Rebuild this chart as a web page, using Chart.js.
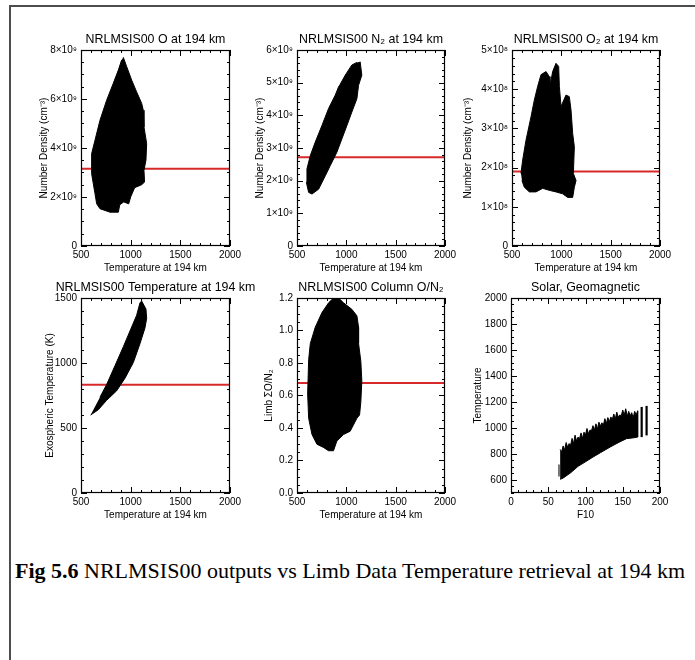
<!DOCTYPE html>
<html>
<head>
<meta charset="utf-8">
<script src="https://cdn.jsdelivr.net/npm/chart.js@4.4.1/dist/chart.umd.min.js"></script>
<style>
  html, body { margin: 0; padding: 0; background: #fff; }
  #page { position: relative; width: 695px; height: 660px; overflow: hidden; background: #fff; }
  #frame { position: absolute; left: 9px; top: 5px; width: 720px; height: 720px;
           border-left: 2px solid #4d4d4d; border-top: 2px solid #4d4d4d; }
  canvas { position: absolute; }
  #caption { position: absolute; left: 15px; top: 558px; white-space: nowrap; color: #000;
             font-family: "Liberation Serif", "Times New Roman", serif; font-size: 22px; }
</style>
</head>
<body>
<div id="page">
  <div id="frame"></div>
  <div id="caption"><b>Fig 5.6</b> NRLMSIS00 outputs vs Limb Data Temperature retrieval at 194 km</div>
</div>
<script>
// ---- axis tick labels ----
const tempTicks = [500, 1000, 1500, 2000];
const oTicks = [0, 2e9, 4e9, 6e9, 8e9];
const n2Ticks = [0, 1e9, 2e9, 3e9, 4e9, 5e9, 6e9];
const o2Ticks = [0, 1e8, 2e8, 3e8, 4e8, 5e8];
const texoTicks = [0, 500, 1000, 1500];
const on2Ticks = [0, 0.2, 0.4, 0.6, 0.8, 1.0, 1.2];
const f10Ticks = [0, 50, 100, 150, 200];
const solarTempTicks = [600, 800, 1000, 1200, 1400, 1600, 1800, 2000];

// ---- atomic oxygen density cloud outline (K, cm^-3 in 1e9) ----
const oTemp = [926, 960, 1010, 1060, 1111, 1127, 1134, 1161, 1154, 1134, 1140, 1110, 1040, 1000, 980, 930, 890, 876, 792, 691, 658, 641, 607, 607, 641, 691, 758, 825, 876, 909];
const oDens = [7.70, 7.32, 6.77, 6.29, 5.82, 5.54, 4.86, 4.18, 3.50, 3.09, 2.61, 2.50, 2.38, 2.00, 1.72, 1.80, 1.68, 1.38, 1.38, 1.52, 1.72, 2.13, 2.95, 3.77, 4.32, 5.13, 5.95, 6.64, 7.18, 7.59];

// ---- molecular nitrogen density cloud outline (K, cm^-3 in 1e9) ----
const n2Temp = [1140, 1157, 1124, 1107, 1056, 1006, 955, 904, 837, 787, 719, 652, 618, 595, 601, 635, 685, 753, 820, 888, 921, 938, 989, 1056, 1107];
const n2Dens = [5.64, 5.23, 4.92, 4.51, 4.10, 3.69, 3.28, 2.87, 2.46, 2.15, 1.74, 1.59, 1.64, 1.95, 2.36, 2.77, 3.18, 3.69, 4.21, 4.62, 4.87, 4.95, 5.23, 5.54, 5.62];

// ---- molecular oxygen density cloud outline (K, cm^-3 in 1e8) ----
const o2Temp = [591, 608, 642, 693, 726, 760, 794, 845, 878, 885, 912, 946, 973, 980, 997, 1047, 1081, 1098, 1115, 1132, 1122, 1149, 1132, 1115, 1064, 1014, 946, 878, 811, 743, 676, 625, 601];
const o2Dens = [1.85, 2.19, 2.70, 3.30, 3.72, 4.07, 4.37, 4.45, 4.32, 4.07, 4.45, 4.66, 4.58, 4.07, 3.56, 3.85, 3.81, 3.47, 2.87, 2.53, 1.85, 1.67, 1.50, 1.24, 1.24, 1.33, 1.38, 1.42, 1.47, 1.38, 1.38, 1.50, 1.67];

// ---- exospheric temperature cloud outline (K, K) ----
const exoTemp = [597, 674, 758, 859, 943, 1027, 1094, 1144, 1161, 1154, 1111, 1094, 1060, 993, 926, 842, 758, 691];
const exoTexo = [600, 640, 713, 786, 883, 1004, 1149, 1270, 1343, 1415, 1476, 1464, 1367, 1246, 1125, 979, 834, 737];

// ---- column O/N2 cloud outline (K, ratio) ----
const on2Temp = [904, 972, 1056, 1107, 1124, 1124, 1147, 1157, 1147, 1134, 1107, 1039, 972, 904, 870, 820, 769, 702, 652, 618, 608, 618, 635, 685, 753, 820, 870];
const on2Ratio = [1.21, 1.17, 1.13, 1.09, 1.02, 0.92, 0.81, 0.69, 0.56, 0.48, 0.46, 0.38, 0.36, 0.32, 0.26, 0.26, 0.28, 0.30, 0.36, 0.46, 0.61, 0.82, 0.92, 1.02, 1.11, 1.17, 1.20];

// ---- solar flux vs temperature band outline (F10, K): jagged top edge, then bottom edge back ----
const bandF10 = [66, 68, 70, 72, 74, 76, 78, 80, 82, 84, 86, 88, 90, 92, 94, 96, 98, 100, 102, 104, 106, 108, 110, 112, 114, 116, 118, 120,
                 122, 124, 126, 128, 130, 132, 134, 136, 138, 140, 142, 144, 146, 148, 150, 152, 154, 156, 158, 160, 162, 164, 166, 168, 170,
                 170, 165, 155, 145, 133, 120, 110, 100, 90, 80, 70, 66];
const bandTemp = [835, 818, 862, 830, 888, 852, 880, 868, 920, 880, 945, 900, 930, 918, 962, 922, 968, 948, 996, 955, 985, 978, 1018, 985, 1032, 992, 1045, 1015,
                  1040, 1022, 1072, 1035, 1080, 1048, 1085, 1065, 1108, 1070, 1122, 1082, 1100, 1095, 1138, 1098, 1148, 1090, 1128, 1094, 1118, 1078, 1128, 1100, 1132,
                  930, 925, 918, 890, 853, 810, 776, 740, 705, 655, 615, 605];
// isolated days drawn as vertical strokes
const strokeF10 = [64.4, 175.4, 182];
const strokeLow = [627, 930, 943];
const strokeHigh = [720, 1162, 1170];

// ---- model reference levels (red lines) ----
const refO = 3.15e9;
const refN2 = 2.72e9;
const refO2 = 1.9e8;
const refTexo = 832;
const refON2 = 0.677;

const FONT = '"Liberation Sans", Arial, sans-serif';

function outline(xs, ys, k) {
  return xs.map((x, i) => ({ x: x, y: ys[i] * k }));
}
function cloud(points) {
  return { data: points, fill: 'shape', backgroundColor: '#000', borderColor: '#000',
           borderWidth: 1, pointRadius: 0, tension: 0 };
}
function refLine(y, x0, x1) {
  return { data: [{ x: x0, y: y }, { x: x1, y: y }], fill: false, borderColor: '#d62a2a',
           borderWidth: 2, pointRadius: 0 };
}
function stroke(x, lo, hi, i) {
  return { data: [{ x: x, y: lo }, { x: x, y: hi }], fill: false,
           borderColor: i === 0 ? '#555' : '#000', borderWidth: i === 0 ? 1.6 : 2.2, pointRadius: 0 };
}
const sci = p => v => v === 0 ? '0' : Math.round(v / Math.pow(10, p)) + '×10' + (p === 9 ? '⁹' : '⁸');

// inward IDL-style ticks on all four sides plus the plot box
const boxTicks = {
  id: 'boxTicks',
  afterDraw(chart, args, o) {
    const { ctx, chartArea: a, scales } = chart;
    const xs = scales.x, ys = scales.y;
    ctx.save();
    ctx.strokeStyle = '#000';
    ctx.lineWidth = 1;
    ctx.beginPath();
    const vert = (vals, len) => vals.forEach(v => {
      const px = Math.round(xs.getPixelForValue(v)) + 0.5;
      ctx.moveTo(px, a.bottom); ctx.lineTo(px, a.bottom - len);
      ctx.moveTo(px, a.top); ctx.lineTo(px, a.top + len);
    });
    const horiz = (vals, len) => vals.forEach(v => {
      const py = Math.round(ys.getPixelForValue(v)) + 0.5;
      ctx.moveTo(a.left, py); ctx.lineTo(a.left + len, py);
      ctx.moveTo(a.right, py); ctx.lineTo(a.right - len, py);
    });
    const minors = (min, max, step) => {
      const out = [];
      for (let v = min; v <= max + step * 1e-6; v += step) out.push(v);
      return out;
    };
    vert(minors(xs.min, xs.max, o.xMinor), 3);
    vert(o.xMajor, 6);
    horiz(minors(ys.min, ys.max, o.yMinor), 3);
    horiz(o.yMajor, 6);
    ctx.stroke();
    ctx.lineWidth = 1.2;
    ctx.strokeRect(Math.round(a.left) + 0.5, Math.round(a.top) + 0.5,
                   Math.round(a.right - a.left) - 1, Math.round(a.bottom - a.top) - 1);
    ctx.restore();
  }
};

const panels = [
  { box: [81, 50, 230, 246], title: 'NRLMSIS00 O at 194 km', yTitle: 'Number Density (cm⁻³)', yGap: 37,
    x: [500, 2000, tempTicks, 100], y: [0, 8e9, oTicks, 5e8], fmt: sci(9),
    sets: [cloud(outline(oTemp, oDens, 1e9)), refLine(refO, 500, 2000)] },
  { box: [297, 50, 445, 246], title: 'NRLMSIS00 N₂ at 194 km', yTitle: 'Number Density (cm⁻³)', yGap: 37,
    x: [500, 2000, tempTicks, 100], y: [0, 6e9, n2Ticks, 2e8], fmt: sci(9),
    sets: [cloud(outline(n2Temp, n2Dens, 1e9)), refLine(refN2, 500, 2000)] },
  { box: [512, 50, 660, 246], title: 'NRLMSIS00 O₂ at 194 km', yTitle: 'Number Density (cm⁻³)', yGap: 44,
    x: [500, 2000, tempTicks, 100], y: [0, 5e8, o2Ticks, 2e7], fmt: sci(8),
    sets: [cloud(outline(o2Temp, o2Dens, 1e8)), refLine(refO2, 500, 2000)] },
  { box: [81, 298, 230, 493], title: 'NRLMSIS00 Temperature at 194 km', yTitle: 'Exospheric Temperature (K)', yGap: 31,
    x: [500, 2000, tempTicks, 100], y: [0, 1500, texoTicks, 100], fmt: v => String(v),
    sets: [cloud(outline(exoTemp, exoTexo, 1)), refLine(refTexo, 500, 2000)] },
  { box: [297, 298, 445, 493], title: 'NRLMSIS00 Column O/N₂', yTitle: 'Limb ΣO/N₂', yGap: 28,
    x: [500, 2000, tempTicks, 100], y: [0, 1.2, on2Ticks, 0.05], fmt: v => v.toFixed(1),
    sets: [cloud(outline(on2Temp, on2Ratio, 1)), refLine(refON2, 500, 2000)] },
  { box: [511, 298, 660, 493], title: 'Solar, Geomagnetic', yTitle: 'Temperature', xTitle: 'F10', yGap: 33,
    x: [0, 200, f10Ticks, 10], y: [500, 2000, solarTempTicks, 50], fmt: v => String(v),
    sets: [cloud(outline(bandF10, bandTemp, 1))].concat(strokeF10.map((f, i) => stroke(f, strokeLow[i], strokeHigh[i], i))) }
];

// equal side margins (a blank right axis balances the left one) keep titles centred over each box
const PAD_L = 64, PAD_T = 24, PAD_R = 64, PAD_B = 34;

panels.forEach(p => {
  const [l, t, r, b] = p.box;
  const cv = document.createElement('canvas');
  const w = r - l + PAD_L + PAD_R, h = b - t + PAD_T + PAD_B;
  cv.width = w; cv.height = h;
  cv.style.left = (l - PAD_L) + 'px';
  cv.style.top = (t - PAD_T) + 'px';
  cv.style.width = w + 'px'; cv.style.height = h + 'px';
  document.getElementById('page').appendChild(cv);

  const [xMin, xMax, xTicks, xMinor] = p.x;
  const [yMin, yMax, yTicks, yMinor] = p.y;

  new Chart(cv, {
    type: 'line',
    data: { datasets: p.sets },
    options: {
      responsive: false, animation: false, devicePixelRatio: 1,
      layout: { padding: 0 },
      plugins: {
        legend: { display: false }, tooltip: { enabled: false },
        title: { display: true, text: p.title, color: '#000',
                 font: { family: FONT, size: 12.4, weight: 'normal', lineHeight: 1.2 },
                 padding: { top: 6.3, bottom: 2.8 } },
        boxTicks: { xMajor: xTicks, yMajor: yTicks, xMinor: xMinor, yMinor: yMinor }
      },
      scales: {
        x: {
          type: 'linear', min: xMin, max: xMax,
          afterBuildTicks: s => { s.ticks = xTicks.map(v => ({ value: v })); },
          afterFit: s => { s.height = PAD_B; },
          grid: { display: false, drawTicks: false }, border: { display: false },
          ticks: { color: '#000', padding: 3, maxRotation: 0, autoSkip: false,
                   font: { family: FONT, size: 10 }, callback: v => String(v) },
          title: { display: true, text: p.xTitle || 'Temperature at 194 km', color: '#000',
                   font: { family: FONT, size: 10, lineHeight: 1.2 }, padding: { top: 0, bottom: 6 } }
        },
        y: {
          type: 'linear', min: yMin, max: yMax,
          afterBuildTicks: s => { s.ticks = yTicks.map(v => ({ value: v })); },
          afterFit: s => { s.width = PAD_L; },
          grid: { display: false, drawTicks: false }, border: { display: false },
          ticks: { color: '#000', padding: 4, autoSkip: false,
                   font: { family: FONT, size: 10 }, callback: p.fmt },
          title: { display: true, text: p.yTitle, color: '#000',
                   font: { family: FONT, size: 10, lineHeight: 1.2 },
                   padding: { top: PAD_L - p.yGap - 6, bottom: 0 } }
        },
        yRight: {
          type: 'linear', position: 'right', min: yMin, max: yMax,
          afterFit: s => { s.width = PAD_R; },
          grid: { display: false, drawTicks: false }, border: { display: false },
          ticks: { display: false }
        }
      }
    },
    plugins: [boxTicks]
  });
});
</script>
</body>
</html>
